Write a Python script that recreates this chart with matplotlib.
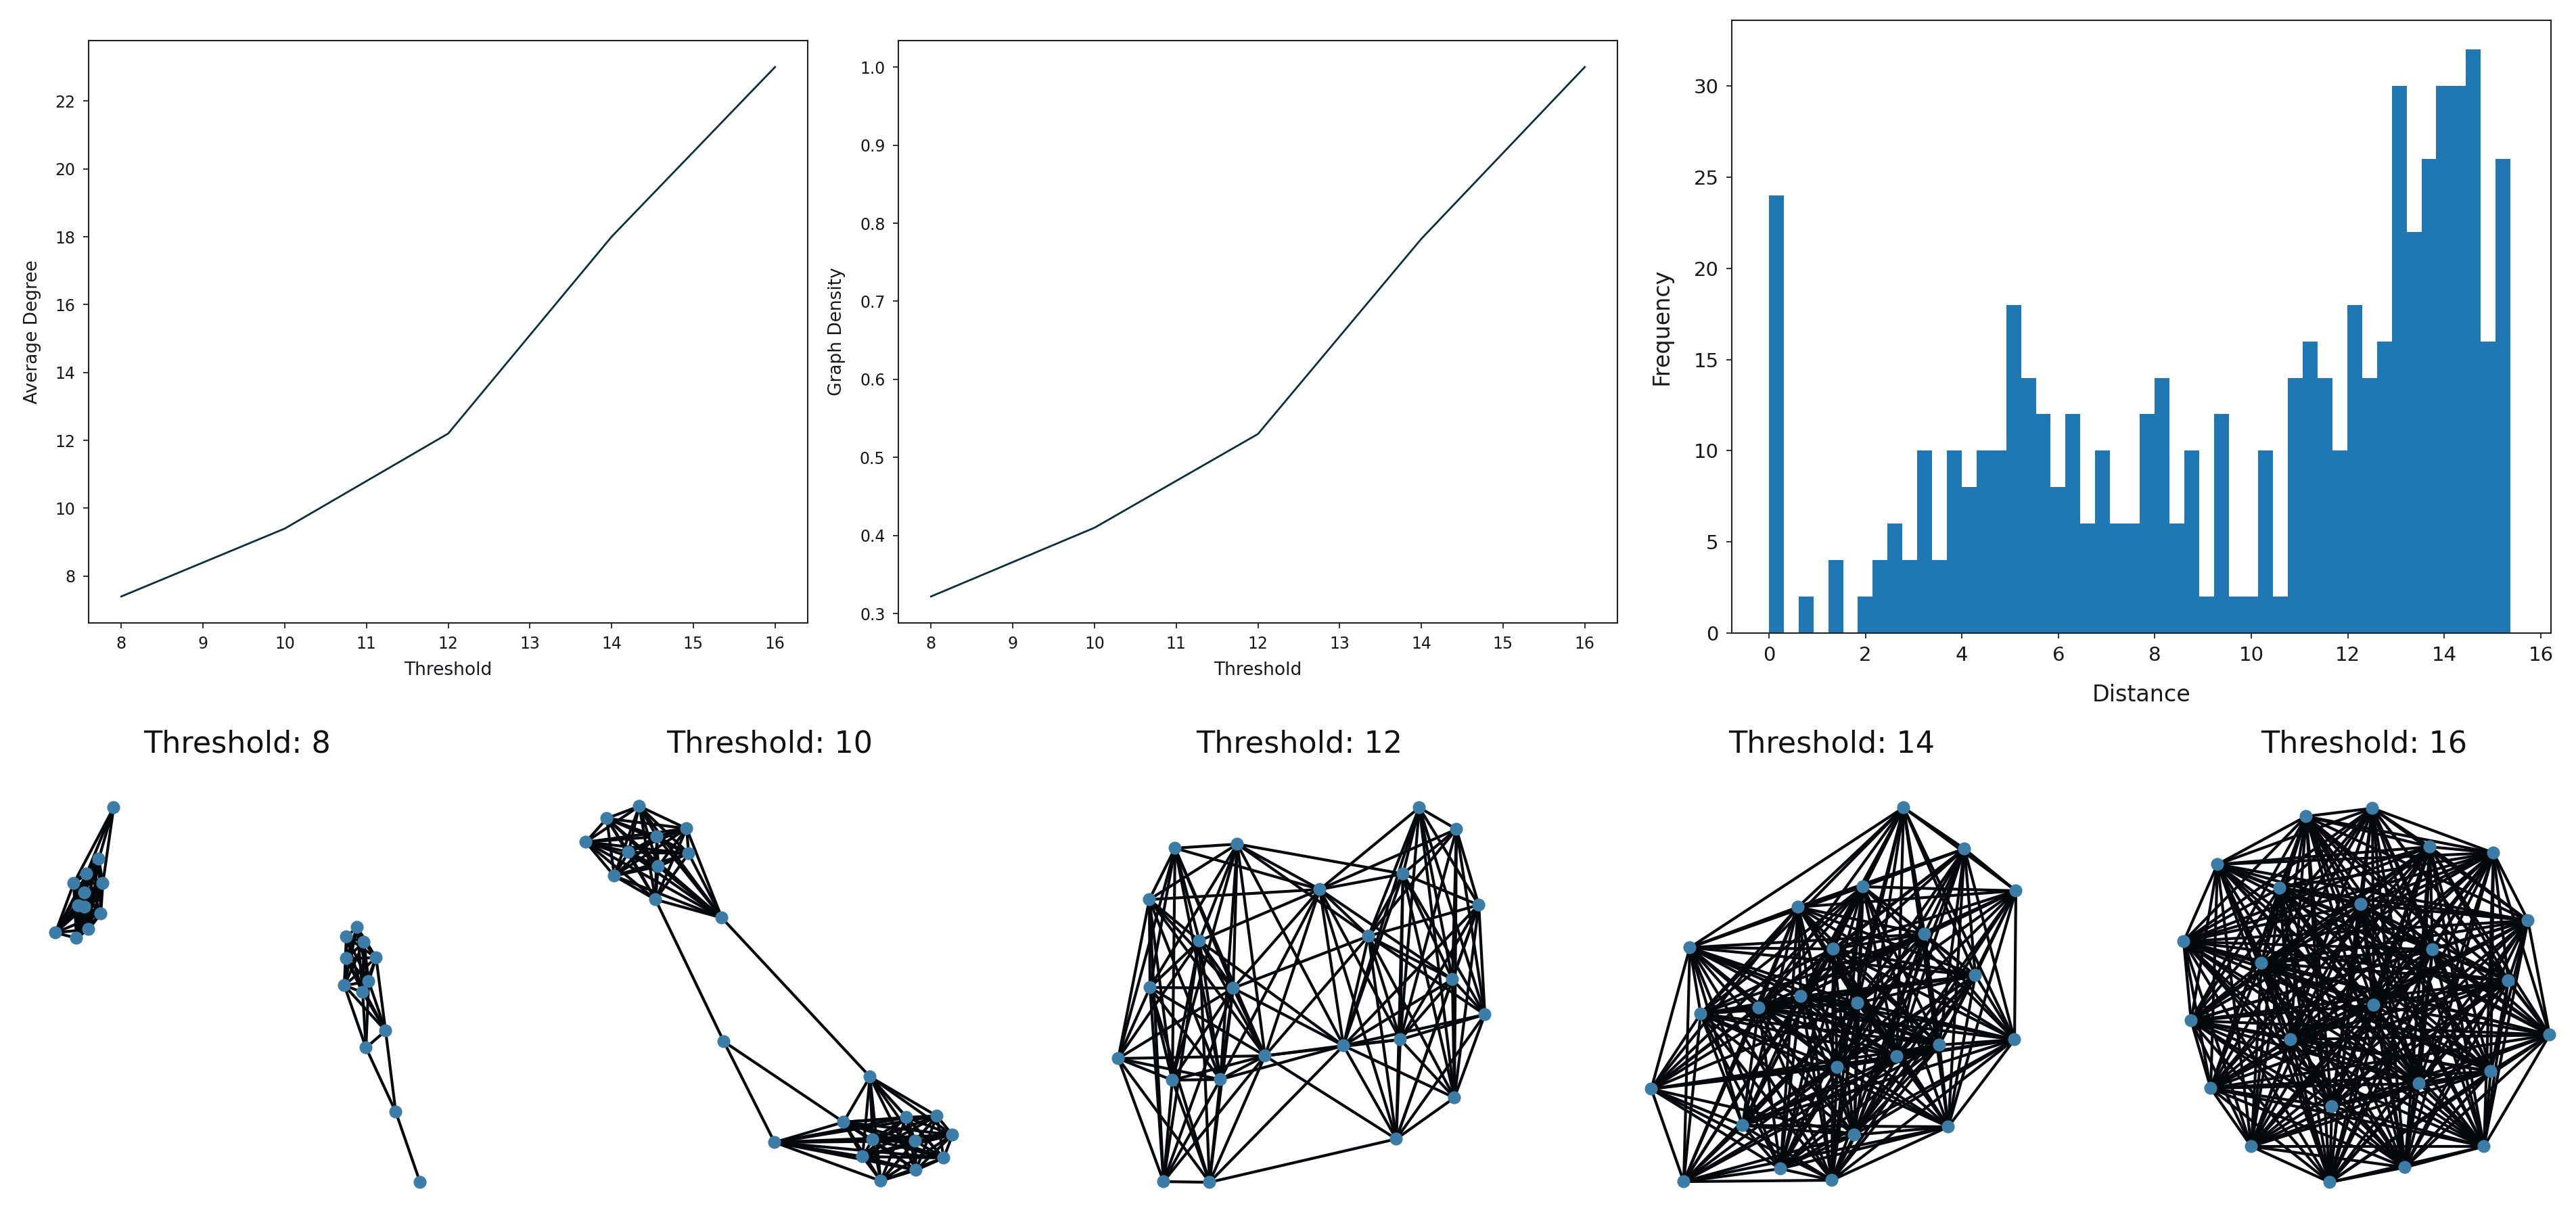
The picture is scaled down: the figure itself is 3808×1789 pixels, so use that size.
import numpy as np
import matplotlib
matplotlib.use("Agg")
import matplotlib.pyplot as plt
from matplotlib.collections import LineCollection

W, H = 3808, 1789

thresholds = [8, 10, 12, 14, 16]
average_degree = [7.4, 9.4, 12.2, 18.0, 23.0]
graph_density = [0.322, 0.41, 0.53, 0.78, 1.0]

hist_counts = [24, 0, 2, 0, 4, 0, 2, 4, 6, 4, 10, 4, 10, 8, 10, 10, 18, 14, 12, 8,
               12, 6, 10, 6, 6, 12, 14, 6, 10, 2, 12, 2, 2, 10, 2, 14, 16, 14, 10, 18,
               14, 16, 30, 22, 26, 30, 30, 32, 16, 26]
hist_max_distance = 15.37

# Node positions (reference pixel coordinates)
g8_x = [168, 146, 128, 109, 152, 125, 116, 125, 149, 131, 82, 113,
        528, 512, 538, 556, 512, 509, 545, 536, 570, 541, 585, 621]
g8_y = [1194, 1270, 1292, 1306, 1306, 1320, 1339, 1341, 1351, 1374, 1379, 1387,
        1371, 1385, 1393, 1416, 1417, 1457, 1451, 1467, 1524, 1549, 1644, 1748]
g10_x = [945, 897, 1015, 866, 971, 1018, 929, 973, 908, 969, 1067, 1070,
         1286, 1247, 1145, 1290, 1275, 1302, 1354, 1395, 1408, 1385, 1340, 1353]
g10_y = [1192, 1210, 1225, 1245, 1237, 1262, 1260, 1281, 1295, 1330, 1357, 1540,
         1592, 1659, 1689, 1685, 1710, 1746, 1730, 1712, 1678, 1650, 1652, 1687]
g12_x = [2098, 2153, 1829, 1737, 2074, 1951, 1699, 2186, 2023, 1773, 2147, 1700,
         1823, 2195, 2070, 1986, 1870, 1653, 1733, 1804, 2150, 2064, 1720, 1788]
g12_y = [1194, 1226, 1248, 1254, 1292, 1315, 1330, 1338, 1384, 1391, 1448, 1460,
         1461, 1500, 1537, 1546, 1561, 1565, 1597, 1596, 1623, 1684, 1747, 1748]
g14_x = [2814, 2904, 2980, 2754, 2658, 2845, 2710, 2920, 2662, 2746, 2600, 2978,
         2867, 2804, 2716, 2880, 2741, 2632, 2708, 2498, 2514, 2441, 2576, 2489]
g14_y = [1194, 1255, 1317, 1311, 1341, 1381, 1403, 1442, 1473, 1483, 1490, 1537,
         1545, 1562, 1578, 1666, 1678, 1728, 1745, 1401, 1499, 1610, 1664, 1747]
g16_x = [3507, 3409, 3592, 3686, 3278, 3370, 3490, 3737, 3228, 3596, 3343, 3708,
         3509, 3239, 3769, 3386, 3682, 3576, 3268, 3447, 3328, 3672, 3555, 3444]
g16_y = [1195, 1207, 1252, 1261, 1278, 1313, 1337, 1361, 1392, 1404, 1424, 1450,
         1486, 1509, 1530, 1537, 1584, 1602, 1609, 1636, 1695, 1695, 1726, 1748]

# Link description: reach of a node in x / y, fully linked groups, single links, removed links
g8_reach = (236, 123)
g10_groups = [list(range(0, 11)), list(range(12, 24))]
g10_extra = [(9, 11), (10, 12), (11, 13), (11, 14)]
g10_removed = [(12, 14)]
g12_reach = (235, 440)
g12_extra = [(21, 23), (2, 4), (2, 5), (3, 5), (6, 5), (5, 9), (5, 12), (8, 16), (5, 16), (8, 12), (22, 23)]
g14_reach = (430, 520)
g14_extra = [(0, 4), (4, 1), (19, 4), (18, 15), (11, 15), (2, 11), (21, 17), (19, 20), (21, 23)]
g16_reach = (9999, 9999)

panel_limits = [(0, 700), (780, 1496), (1560, 2282), (2340, 3076), (3182, 3808)]
panel_top = 1150

BLACK = "#05090c"
LINE = "#0a2f3c"
BLUE = "#1f77b4"
NODE = "#3c7da8"


def fx(px):
    return px / W


def fy(py):
    return 1 - py / H


def axes_px(fig, left, top, right, bottom):
    return fig.add_axes([fx(left), fy(bottom), (right - left) / W, (bottom - top) / H])


def links(x, y, reach=None, groups=(), extra=(), removed=()):
    found = set()
    n = len(x)
    if reach is not None:
        for i in range(n):
            for j in range(i + 1, n):
                if ((x[i] - x[j]) / reach[0]) ** 2 + ((y[i] - y[j]) / reach[1]) ** 2 <= 1:
                    found.add((i, j))
    for g in groups:
        for a in range(len(g)):
            for b in range(a + 1, len(g)):
                found.add((g[a], g[b]))
    for i, j in extra:
        found.add((min(i, j), max(i, j)))
    for i, j in removed:
        found.discard((min(i, j), max(i, j)))
    return sorted(found)


fig = plt.figure(figsize=(W / 100, H / 100), dpi=100, facecolor="white")
plt.rcParams["font.family"] = "DejaVu Sans"


def style(ax, tick, lab):
    for s in ax.spines.values():
        s.set_linewidth(1.5)
        s.set_color("#1a2226")
    ax.tick_params(labelsize=tick, width=1.3, length=6, color="#1a2226", labelcolor="#15191c", pad=8)
    ax.xaxis.label.set_size(lab)
    ax.yaxis.label.set_size(lab)
    ax.xaxis.label.set_color("#15191c")
    ax.yaxis.label.set_color("#15191c")


ax1 = axes_px(fig, 131, 60, 1194, 921)
ax1.plot(thresholds, average_degree, color=LINE, lw=2.0)
ax1.set_xlabel("Threshold", labelpad=10)
ax1.set_ylabel("Average Degree", labelpad=15)
ax1.set_xticks(range(8, 17))
ax1.set_yticks(range(8, 24, 2))
style(ax1, 17, 19)

ax2 = axes_px(fig, 1328, 60, 2391, 921)
ax2.plot(thresholds, graph_density, color=LINE, lw=2.0)
ax2.set_xlabel("Threshold", labelpad=10)
ax2.set_ylabel("Graph Density", labelpad=15)
ax2.set_xticks(range(8, 17))
ax2.set_yticks(np.arange(3, 11) / 10)
style(ax2, 17, 19)

ax3 = axes_px(fig, 2560, 30, 3771, 936)
edges = np.linspace(0, hist_max_distance, len(hist_counts) + 1)
ax3.stairs(hist_counts, edges, fill=True, color=BLUE)
ax3.set_xlim(-0.77, 16.21)
ax3.set_ylim(0, 33.6)
ax3.set_xticks(range(0, 17, 2))
ax3.set_yticks(range(0, 31, 5))
ax3.set_xlabel("Distance", labelpad=20)
ax3.set_ylabel("Frequency", labelpad=22)
style(ax3, 21, 24)

panels = [
    (g8_x, g8_y, dict(reach=g8_reach)),
    (g10_x, g10_y, dict(groups=g10_groups, extra=g10_extra, removed=g10_removed)),
    (g12_x, g12_y, dict(reach=g12_reach, extra=g12_extra)),
    (g14_x, g14_y, dict(reach=g14_reach, extra=g14_extra)),
    (g16_x, g16_y, dict(reach=g16_reach)),
]

for t, lim, (x, y, spec) in zip(thresholds, panel_limits, panels):
    ax = axes_px(fig, lim[0], panel_top, lim[1], H)
    ax.set_xlim(lim[0], lim[1])
    ax.set_ylim(H, panel_top)
    ax.axis("off")
    segs = [[(x[i], y[i]), (x[j], y[j])] for i, j in links(x, y, **spec)]
    ax.add_collection(LineCollection(segs, colors=BLACK, linewidths=3.0, zorder=1))
    ax.scatter(x, y, s=190, color=NODE, edgecolors="none", zorder=2)
    ax.set_title(f"Threshold: {t}", fontsize=32, color="#111111", pad=27)

fig.savefig("out.png", dpi=100, facecolor="white")
